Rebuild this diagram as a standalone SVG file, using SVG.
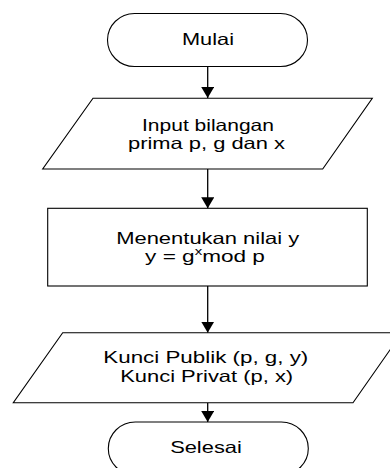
<svg xmlns="http://www.w3.org/2000/svg" width="390" height="468" viewBox="0 0 390 468">
<style>
.shape{fill:#ffffff;stroke:#000000;stroke-width:1.1}
.conn{stroke:#000000;stroke-width:1.3;fill:none}
.t{font-family:"Liberation Sans",Arial,sans-serif;font-size:16.5px;fill:#000000;text-anchor:middle}
</style>
<defs>
<marker id="arrow" viewBox="0 0 11 13" refX="11" refY="6.5" markerWidth="11" markerHeight="13" markerUnits="userSpaceOnUse" orient="auto">
<path d="M0,0 L11,6.5 L0,13 z" fill="#000000"/>
</marker>
</defs>
<rect width="390" height="468" fill="#ffffff"/>
<g id="connectors">
<line class="conn" x1="207.7" y1="66.7" x2="207.7" y2="98" marker-end="url(#arrow)"/>
<line class="conn" x1="207.7" y1="169" x2="207.7" y2="208.3" marker-end="url(#arrow)"/>
<line class="conn" x1="207.7" y1="286" x2="207.7" y2="332.7" marker-end="url(#arrow)"/>
<line class="conn" x1="207.7" y1="402.7" x2="207.7" y2="422" marker-end="url(#arrow)"/>
</g>
<g id="mulai">
<rect class="shape" x="107.5" y="13.5" width="200" height="53" rx="27" ry="26.5"/>
<text class="t" x="208" y="44.5" textLength="52" lengthAdjust="spacingAndGlyphs">Mulai</text>
</g>
<g id="input">
<polygon class="shape" points="93,98.3 372.3,98.3 322.7,169 42.7,169"/>
<text class="t" x="208" y="130.5" textLength="132" lengthAdjust="spacingAndGlyphs">Input bilangan</text>
<text class="t" x="206.5" y="149.2" textLength="157" lengthAdjust="spacingAndGlyphs">prima p, g dan x</text>
</g>
<g id="proses">
<rect class="shape" x="47.7" y="208.3" width="319.6" height="77.7"/>
<text class="t" x="207.7" y="243.5" textLength="183" lengthAdjust="spacingAndGlyphs">Menentukan nilai y</text>
<text class="t" transform="translate(205,262) scale(1.37,1)" x="0" y="0">y = g<tspan font-size="11" dy="-7">x</tspan><tspan dy="7">mod p</tspan></text>
</g>
<g id="output">
<polygon class="shape" points="62.7,332.7 402,332.7 353,402.7 13.3,402.7"/>
<text class="t" x="205.8" y="363" textLength="205" lengthAdjust="spacingAndGlyphs">Kunci Publik (p, g, y)</text>
<text class="t" x="206.7" y="381.7" textLength="173" lengthAdjust="spacingAndGlyphs">Kunci Privat (p, x)</text>
</g>
<g id="selesai">
<rect class="shape" x="108.3" y="422" width="200" height="53" rx="27" ry="26.5"/>
<text class="t" x="206" y="453" textLength="71.7" lengthAdjust="spacingAndGlyphs">Selesai</text>
</g>
</svg>
